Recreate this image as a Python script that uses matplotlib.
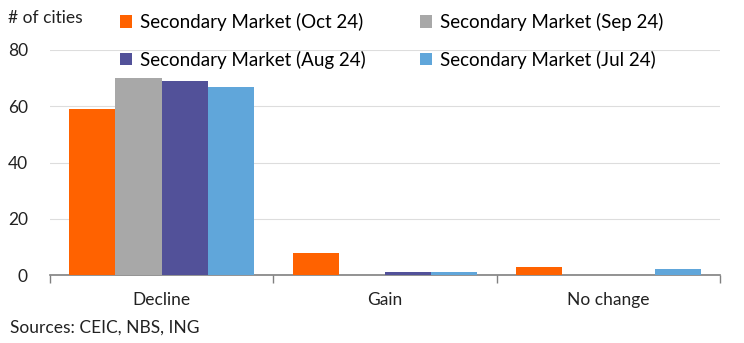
import numpy as np
import matplotlib.pyplot as plt
from matplotlib.ticker import FixedLocator

plt.rcParams['font.family'] = ['Lato', 'DejaVu Sans']

# data
categories = ['Decline', 'Gain', 'No change']
series_names = ['Secondary Market (Oct 24)', 'Secondary Market (Sep 24)',
                'Secondary Market (Aug 24)', 'Secondary Market (Jul 24)']
oct24 = [59, 8, 3]
sep24 = [70, 0, 0]
aug24 = [69, 1, 0]
jul24 = [67, 1, 2]
colors = ['#FF6200', '#A8A8A8', '#525199', '#60A6DA']

fig = plt.figure(figsize=(7.44, 3.43), dpi=100)
ax = fig.add_axes([50/744, 1-275/343, 670/744, 225/343])

x = np.arange(len(categories))
w = 0.207
bars = []
for i, (vals, name) in enumerate(zip([oct24, sep24, aug24, jul24], series_names)):
    b = ax.bar(x + (i - 1.5) * w, vals, width=w, color=colors[i], label=name, zorder=3)
    bars.append(b)

ax.set_xlim(-0.5, 2.5)
ax.set_ylim(0, 80)
ax.set_yticks([0, 20, 40, 60, 80])
ax.yaxis.grid(True, color='#DDDDDD', linewidth=0.8, zorder=0)
ax.tick_params(axis='y', length=0, labelsize=12.5, colors='#222222', pad=16)
ax.set_xticks(x)
ax.set_xticklabels(categories)
ax.tick_params(axis='x', which='major', length=0, labelsize=12.5, colors='#222222', pad=12)
ax.xaxis.set_minor_locator(FixedLocator([-0.5, 0.5, 1.5, 2.5]))
ax.tick_params(axis='x', which='minor', length=6, color='#808080', width=1)
for s in ['top', 'right', 'left']:
    ax.spines[s].set_visible(False)
ax.spines['bottom'].set_color('#808080')
ax.spines['bottom'].set_linewidth(1.2)

fig.text(8/744, 1-18/343, '# of cities', fontsize=12.5, color='#222222', va='center')
fig.text(10/744, 1-328/343, 'Sources: CEIC, NBS, ING', fontsize=12.5, color='#222222', va='center')

# legend filled row-wise: Oct, Sep / Aug, Jul
order = [0, 2, 1, 3]
fig.legend([bars[k] for k in order], [series_names[k] for k in order],
           loc='upper left', bbox_to_anchor=(120/744, 1-13/343), ncol=2, frameon=False,
           fontsize=13.5, handlelength=0.65, handleheight=0.65, handletextpad=0.4,
           columnspacing=2.9, labelspacing=1.05, borderaxespad=0, borderpad=0)

fig.savefig('out.png', dpi=100)
